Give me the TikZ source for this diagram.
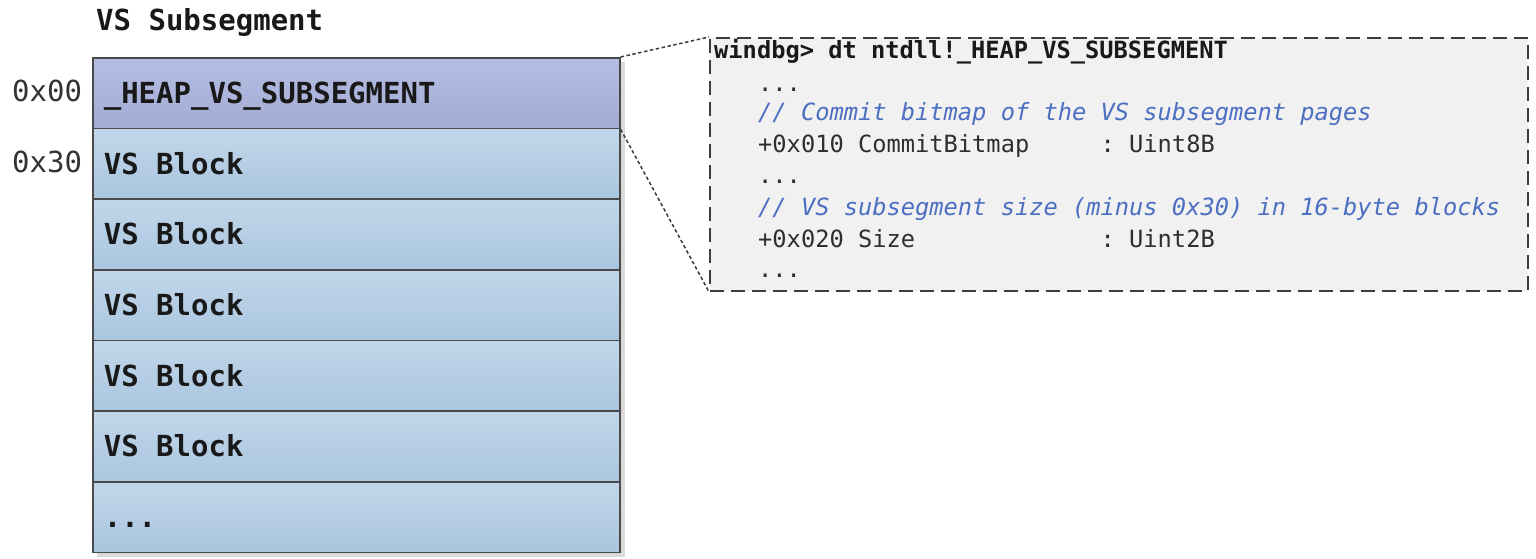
\documentclass[tikz,border=0pt]{standalone}
\usepackage{fontspec}
\setmonofont{DejaVu Sans Mono}
\definecolor{hdrtop}{HTML}{B5BEE1}
\definecolor{hdrbot}{HTML}{A3ABD5}
\definecolor{blktop}{HTML}{C2D6EA}
\definecolor{blkbot}{HTML}{A9C6DF}
\definecolor{framegray}{HTML}{4A4A4A}
\definecolor{shadowgray}{HTML}{DADADA}
\definecolor{calloutfill}{HTML}{F1F1F1}
\definecolor{calloutline}{HTML}{3C3C3C}
\definecolor{codetext}{HTML}{2E2E2E}
\definecolor{commentblue}{HTML}{4D6FC2}
\newcommand\bigmono{\fontsize{29}{34}\selectfont\ttfamily}
\newcommand\smallmono{\fontsize{23.7}{28}\selectfont\ttfamily}
\newcommand\rowtext[1]{\makebox[505pt][l]{#1}}
\tikzset{
  row/.style={draw=framegray, line width=1.6pt, minimum width=527pt, minimum height=70.67pt,
    inner xsep=11pt, inner ysep=0pt, text height=21pt, text depth=0pt,
    font=\bigmono\bfseries, text=black!90, anchor=north west},
  hdrrow/.style={row, top color=hdrtop, bottom color=hdrbot},
  blkrow/.style={row, top color=blktop, bottom color=blkbot},
  txt/.style={inner sep=0pt, anchor=base west},
  offs/.style={txt, font=\bigmono, text=black!80},
  code/.style={txt, font=\smallmono, text=codetext},
  cmt/.style={txt, font=\smallmono\itshape, text=commentblue},
  conn/.style={draw=calloutline, line width=1.5pt, dash pattern=on 3.5pt off 2.5pt},
  callout/.style={draw=calloutline, fill=calloutfill, line width=1.8pt, dash pattern=on 14pt off 7pt,
    minimum width=818pt, minimum height=253pt, inner sep=0pt, anchor=north west}
}
\begin{document}
\begin{tikzpicture}[x=1pt,y=-1pt]
\useasboundingbox (0,0) rectangle (1536,559);
% shadow
\fill[shadowgray] (97,62) rectangle (625,557);
% stack
\node[hdrrow] (hdr) at (92,57) {\rowtext{\_HEAP\_VS\_SUBSEGMENT}};
\node[blkrow] (b1) at (92,127.67) {\rowtext{VS Block}};
\node[blkrow] (b2) at (92,198.33) {\rowtext{VS Block}};
\node[blkrow] (b3) at (92,269) {\rowtext{VS Block}};
\node[blkrow] (b4) at (92,339.67) {\rowtext{VS Block}};
\node[blkrow] (b5) at (92,410.33) {\rowtext{VS Block}};
\node[blkrow] (b6) at (92,481) {\rowtext{...}};
% labels
\node[txt, font=\bigmono\bfseries, text=black!90] (title) at (96,31) {VS Subsegment};
\node[offs] (o0) at (12,102) {0x00};
\node[offs] (o30) at (12,172.5) {0x30};
% callout
\node[callout] (callout) at (709,37) {};
\draw[conn] (hdr.north east) -- (callout.north west);
\draw[conn] (hdr.south east) -- (callout.south west);
\node[code, font=\smallmono\bfseries, text=black!90] (l0) at (714,59) {windbg> dt ntdll!\_HEAP\_VS\_SUBSEGMENT};
\node[code] (l1) at (758,92) {...};
\node[cmt] (l2) at (758,121) {// Commit bitmap of the VS subsegment pages};
\node[code] (l3) at (758,152) {+0x010 CommitBitmap\ \ \ \ \ : Uint8B};
\node[code] (l4) at (758,183) {...};
\node[cmt] (l5) at (758,215) {// VS subsegment size (minus 0x30) in 16-byte blocks};
\node[code] (l6) at (758,247) {+0x020 Size\ \ \ \ \ \ \ \ \ \ \ \ \ : Uint2B};
\node[code] (l7) at (758,277) {...};
\end{tikzpicture}
\end{document}
